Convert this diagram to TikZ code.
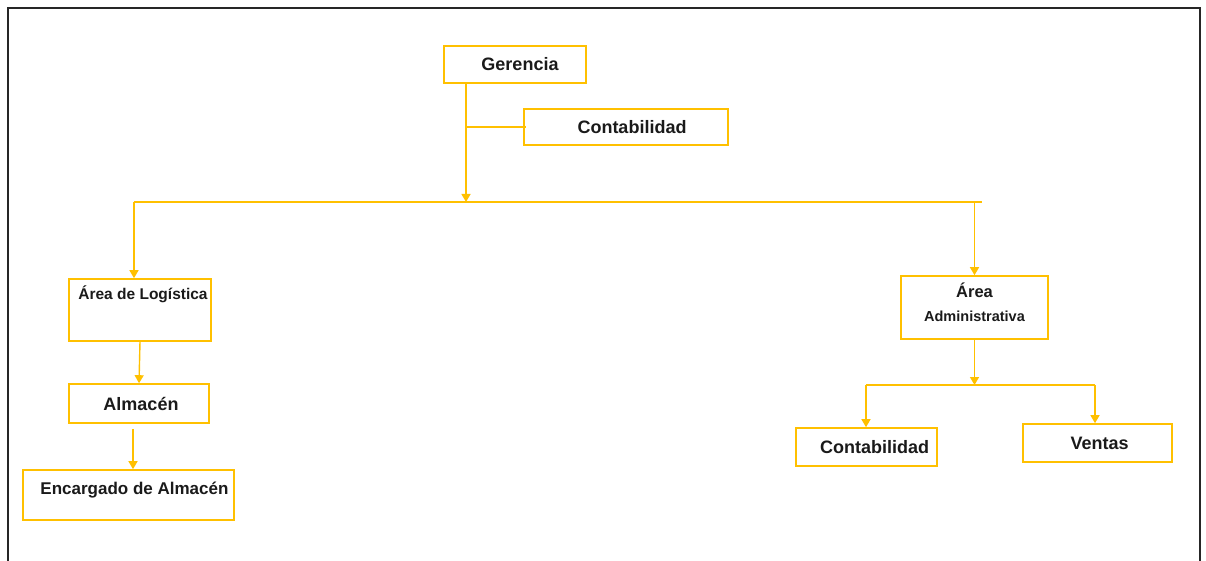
\documentclass[tikz,border=0pt]{standalone}
\usepackage{fontspec}
\setmainfont{Liberation Sans}
\usetikzlibrary{arrows.meta}
\definecolor{gold}{HTML}{FFC000}
\definecolor{ink}{HTML}{1A1A1A}

\begin{document}
\begin{tikzpicture}
[
    x=1pt, y=-1pt,
    box/.style={draw=gold, line width=1.6pt, rectangle, inner sep=0pt,
        text=ink, font=\bfseries\fontsize{18}{21}\selectfont},
    small/.style={font=\bfseries\fontsize{#1}{#1}\selectfont},
    conn/.style={draw=gold, line width=1.4pt},
    arr/.style={conn, -{Triangle[width=9pt,length=8pt]}},
    frame/.style={draw=black!85, line width=2pt},
]
\useasboundingbox (0,0) rectangle (1206,561);
\draw [frame] (8,570) -- (8,8) -- (1200,8) -- (1200,570);

\node [box, minimum width=142, minimum height=37] (ger) at (515,64.5) {\hspace*{10pt}Gerencia};
\node [box, minimum width=204, minimum height=36] (conta) at (626,127) {\hspace*{12pt}Contabilidad};
\node [box, minimum width=142, minimum height=62, small=15.5,
       text height=12pt, text depth=34pt] (logi) at (140,310) {\hspace*{6pt}Área de Logística};
\node [box, minimum width=140, minimum height=39] (alm) at (139,403.5) {\hspace*{4pt}Almacén};
\node [box, minimum width=211, minimum height=50, small=17,
       text height=12pt, text depth=14pt] (enc) at (128.5,495) {\hspace*{12pt}Encargado de Almacén};
\node [box, minimum width=147, minimum height=63, align=center, small=14.5,
       text height=37pt, text depth=10pt]
       (adm) at (974.5,307.5) {{\fontsize{16.5}{16.5}\selectfont Área}\\[9.5pt]Administrativa};
\node [box, minimum width=141, minimum height=38] (contb) at (866.5,447) {\hspace*{16pt}Contabilidad};
\node [box, minimum width=149, minimum height=38] (vent) at (1097.5,443) {\hspace*{4pt}Ventas};

\coordinate (busTop) at (466,202);
\coordinate (busL) at (134,202);
\coordinate (busR) at (982,202);
\coordinate (subL) at (866,385);
\coordinate (subR) at (1095,385);

\draw [arr] (ger.south -| busTop) -- (busTop);
\draw [conn] (conta.west -| busTop) -- ([xshift=3pt]conta.west);
\draw [conn] (busL) -- (busR);
\draw [arr] (busL) -- (logi.north -| busL);
\draw [arr] (logi.south) -- (alm.north);
\draw [arr] ([xshift=-6pt,yshift=-5pt]alm.south) -- ([xshift=-6pt]alm.south |- enc.north);
\draw [arr] (adm.north |- busR) -- (adm.north);
\draw [arr] (adm.south) -- (adm.south |- subL);
\draw [conn] (subL) -- (subR);
\draw [arr] (subL) -- (contb.north -| subL);
\draw [arr] (subR) -- (vent.north -| subR);
\end{tikzpicture}
\end{document}
